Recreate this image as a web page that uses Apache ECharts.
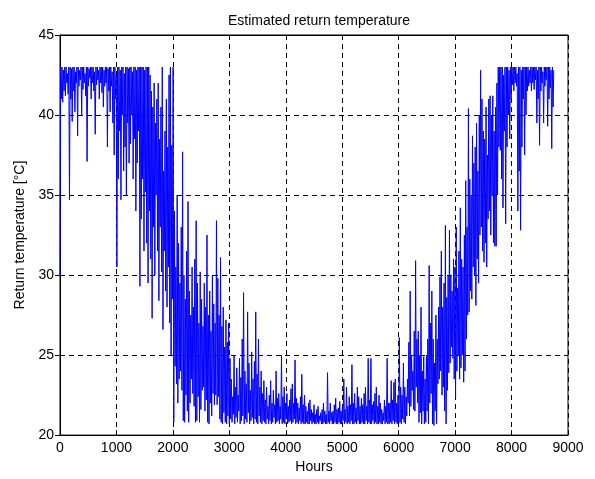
<!DOCTYPE html>
<html><head><meta charset="utf-8">
<script src="https://cdn.jsdelivr.net/npm/echarts@6/dist/echarts.min.js"></script>
<style>html,body{margin:0;padding:0;background:#fff}#c{width:595px;height:479px}</style>
</head><body><div id="c"></div>
<script>
// ---- text ----
const titleText = 'Estimated return temperature';
const xName = 'Hours';
const yName = 'Return temperature [\u00B0C]';

// ---- axes ----
const xTicks = [0, 1000, 2000, 3000, 4000, 5000, 6000, 7000, 8000, 9000];
const yTicks = [20, 25, 30, 35, 40, 45];

// ---- data: daily low (at hour d*24) and daily high (at hour d*24+12) ----
const hoursPerDay = 24;
const janLo = [30.0, 41.0, 40.8, 41.5, 41.2, 42.0, 41.3, 34.7, 41.0, 39.6, 41.5, 40.2, 42.0, 38.7, 41.8, 42.2, 40.0, 41.6, 42.0, 41.2, 37.1, 41.8, 42.3, 41.0, 42.0, 41.5, 38.8, 41.9, 42.2, 41.0, 42.0];
const janHi = [43.0, 43.0, 42.8, 43.0, 43.0, 42.6, 43.0, 43.0, 42.9, 43.0, 43.0, 42.7, 43.0, 43.0, 42.8, 43.0, 43.0, 43.0, 42.6, 43.0, 43.0, 42.9, 43.0, 43.0, 43.0, 42.7, 43.0, 43.0, 42.8, 43.0, 43.0];
const febLo = [41.4, 40.5, 41.8, 42.0, 38.0, 41.5, 40.2, 41.8, 39.5, 37.5, 41.0, 30.5, 36.0, 39.0, 34.7, 40.0, 36.5, 38.0, 35.0, 39.5, 37.0, 38.2, 40.0, 36.0, 38.5, 34.0, 37.0, 39.0];
const febHi = [43.0, 42.8, 43.0, 43.0, 42.9, 43.0, 43.0, 42.7, 43.0, 43.0, 42.5, 43.0, 43.0, 42.8, 43.0, 43.0, 42.6, 43.0, 43.0, 42.9, 43.0, 43.0, 42.7, 43.0, 43.0, 42.8, 43.0, 43.0];
const marLo = [29.3, 33.5, 36.0, 31.5, 35.2, 32.0, 29.5, 34.0, 31.0, 27.3, 33.0, 30.0, 35.0, 31.5, 28.4, 33.0, 30.2, 26.6, 31.5, 29.0, 28.0, 30.5, 27.0, 25.0, 28.5, 20.8, 24.3, 23.2, 22.0, 23.5, 24.0];
const marHi = [43.0, 43.0, 43.0, 42.8, 43.0, 43.0, 43.0, 42.5, 41.5, 40.5, 42.0, 39.5, 41.0, 42.0, 38.5, 40.5, 43.0, 36.5, 39.0, 41.0, 38.0, 42.5, 43.0, 38.1, 43.0, 34.0, 30.5, 35.0, 32.0, 29.5, 33.0];
const aprLo = [22.8, 20.9, 20.8, 22.5, 21.5, 20.8, 22.0, 23.5, 22.6, 21.8, 20.8, 20.9, 22.4, 20.8, 21.6, 22.8, 23.0, 21.5, 22.2, 20.8, 20.7, 22.0, 21.2, 22.6, 21.9, 22.5, 21.9, 22.4, 21.0, 20.8];
const aprHi = [37.7, 30.0, 28.5, 31.5, 34.6, 29.0, 27.5, 30.5, 28.0, 31.0, 33.4, 29.5, 27.0, 30.2, 28.5, 26.8, 29.5, 28.0, 32.5, 27.5, 29.0, 26.5, 30.0, 28.2, 27.0, 33.4, 29.8, 27.5, 31.1, 26.8];
const mayLo = [20.7, 21.4, 20.8, 20.7, 21.2, 20.7, 21.0, 20.8, 21.3, 20.7, 21.1, 20.8, 21.5, 20.7, 20.9, 21.2, 20.7, 21.0, 20.8, 21.4, 20.7, 20.9, 21.1, 20.7, 21.0, 20.8, 20.7, 21.2, 20.8, 20.7, 20.9];
const mayHi = [28.0, 25.5, 27.2, 25.8, 27.0, 24.8, 23.5, 22.4, 25.0, 23.0, 24.2, 22.5, 24.8, 23.6, 26.0, 28.9, 24.0, 23.2, 27.7, 24.5, 22.8, 25.2, 23.5, 24.6, 27.7, 23.8, 26.0, 23.0, 24.0, 22.6, 23.4];
const junLo = [20.8, 20.7, 21.0, 20.7, 20.9, 20.7, 20.8, 21.1, 20.7, 20.8, 20.9, 20.7, 21.0, 20.7, 20.8, 20.7, 21.0, 20.7, 20.8, 20.9, 20.7, 20.8, 21.0, 20.7, 20.8, 20.7, 20.9, 20.7, 20.8, 20.7];
const junHi = [22.2, 23.0, 21.8, 22.5, 23.4, 22.0, 22.8, 21.9, 24.0, 22.3, 22.6, 21.8, 25.0, 22.4, 23.0, 22.0, 22.6, 21.8, 22.2, 22.9, 23.2, 22.0, 24.7, 22.3, 22.0, 21.7, 22.4, 23.8, 21.9, 22.5];
const julLo = [20.7, 20.8, 20.7, 20.7, 20.9, 20.7, 20.8, 20.7, 20.7, 20.8, 20.7, 20.9, 20.7, 20.7, 20.8, 20.7, 20.7, 20.8, 20.7, 20.9, 20.7, 20.7, 20.8, 20.7, 20.7, 20.8, 20.7, 20.7, 20.9, 20.7, 20.8];
const julHi = [21.8, 21.5, 22.0, 22.2, 21.6, 21.4, 21.9, 21.3, 21.6, 21.8, 21.2, 21.4, 21.6, 22.0, 21.5, 21.3, 23.9, 21.5, 22.0, 21.4, 21.5, 21.9, 22.3, 21.6, 21.7, 22.1, 21.5, 21.8, 23.5, 21.6, 23.0];
const augLo = [20.7, 20.8, 20.7, 20.9, 20.7, 20.7, 20.8, 20.7, 20.9, 20.7, 20.7, 20.8, 20.7, 20.7, 20.9, 20.7, 20.8, 20.7, 20.7, 20.9, 20.7, 20.8, 20.7, 20.7, 20.8, 20.7, 20.7, 20.9, 20.7, 20.8, 20.7];
const augHi = [21.8, 22.4, 21.9, 24.4, 22.0, 22.6, 21.7, 23.0, 22.4, 21.8, 22.3, 21.9, 22.6, 23.0, 21.8, 24.8, 22.2, 24.8, 21.9, 22.1, 22.6, 23.0, 21.8, 22.5, 22.0, 21.6, 21.4, 22.2, 21.8, 24.8, 22.0];
const sepLo = [20.7, 20.8, 20.7, 20.9, 20.7, 20.8, 20.7, 20.7, 20.8, 20.7, 21.0, 20.8, 20.7, 21.2, 22.0, 21.2, 21.8, 22.8, 21.6, 21.5, 23.0, 22.0, 20.8, 21.4, 20.7, 21.5, 20.7, 20.8, 21.5, 20.7];
const sepHi = [22.0, 23.4, 22.2, 23.3, 23.5, 22.0, 22.5, 26.1, 23.0, 22.5, 24.5, 23.0, 22.4, 23.5, 25.8, 29.0, 25.0, 24.0, 26.5, 30.9, 26.0, 26.5, 25.0, 28.0, 24.0, 24.9, 23.5, 25.0, 26.0, 30.6];
const octLo = [22.0, 22.6, 20.7, 20.6, 21.5, 20.7, 23.2, 23.5, 24.0, 22.5, 23.0, 21.5, 20.7, 22.8, 23.9, 24.5, 25.5, 24.8, 23.5, 22.3, 24.0, 25.0, 23.5, 24.2, 25.0, 23.3, 24.0, 26.0, 27.5, 27.7, 29.0];
const octHi = [27.0, 29.0, 26.0, 24.5, 27.5, 26.0, 28.0, 29.9, 31.5, 28.0, 29.5, 33.1, 28.6, 30.0, 32.8, 30.0, 29.0, 31.0, 30.5, 33.0, 29.2, 31.5, 34.2, 31.0, 30.5, 32.5, 35.9, 33.0, 40.4, 36.0, 35.0];
const novLo = [28.5, 30.5, 30.0, 28.1, 31.0, 29.5, 32.5, 33.0, 31.5, 30.8, 32.0, 30.5, 33.5, 34.0, 32.5, 35.0, 32.0, 31.8, 31.8, 35.0, 38.0, 37.8, 36.0, 34.2, 39.0, 33.2, 38.0, 40.0, 38.5, 41.0];
const novHi = [38.7, 37.0, 38.0, 39.5, 36.5, 40.0, 42.8, 41.0, 39.0, 38.5, 40.5, 37.5, 41.0, 41.2, 40.0, 41.2, 39.0, 40.5, 42.0, 43.0, 43.0, 43.0, 43.0, 42.5, 43.0, 43.0, 43.0, 42.8, 43.0, 43.0];
const decLo = [41.9, 41.5, 42.0, 41.8, 34.0, 36.5, 32.8, 38.0, 41.0, 37.5, 40.0, 41.5, 41.8, 42.0, 41.5, 42.0, 41.6, 42.2, 39.5, 41.0, 38.1, 41.5, 42.0, 39.5, 41.8, 42.2, 39.3, 41.0, 41.7, 37.9, 40.5];
const decHi = [43.0, 43.0, 43.0, 42.6, 43.0, 43.0, 42.8, 43.0, 43.0, 43.0, 43.0, 43.0, 42.8, 43.0, 43.0, 43.0, 43.0, 43.0, 42.8, 43.0, 43.0, 43.0, 42.7, 43.0, 43.0, 43.0, 43.0, 43.0, 42.8, 43.0, 42.8];

const dailyLo = [].concat(janLo, febLo, marLo, aprLo, mayLo, junLo, julLo, augLo, sepLo, octLo, novLo, decLo);
const dailyHi = [].concat(janHi, febHi, marHi, aprHi, mayHi, junHi, julHi, augHi, sepHi, octHi, novHi, decHi);
const seriesData = [];
dailyLo.forEach((lo, d) => {
  seriesData.push([d * hoursPerDay, lo]);
  seriesData.push([d * hoursPerDay + hoursPerDay / 2, dailyHi[d]]);
});

const FONT = '"Liberation Sans", Arial, sans-serif';
const xMin = xTicks[0], xMax = xTicks[xTicks.length - 1], xInt = xTicks[1] - xTicks[0];
const yMin = yTicks[0], yMax = yTicks[yTicks.length - 1], yInt = yTicks[1] - yTicks[0];

const lineBlack = { show: true, lineStyle: { color: '#000', width: 1 } };
const tickIn = { show: true, inside: true, length: 5, lineStyle: { color: '#000', width: 1 } };
const dashed = { show: true, lineStyle: { color: '#000', width: 1, type: [5, 4] } };
const plainLabel = v => String(v);

const GRID = { left: 60, right: 27, top: 35, bottom: 43 };
const chart = echarts.init(document.getElementById('c'), null, { renderer: 'canvas' });
chart.setOption({
  animation: false,
  backgroundColor: '#fff',
  title: {
    text: titleText, left: GRID.left + (595 - GRID.left - GRID.right) / 2, textAlign: 'center', top: 9,
    textStyle: { fontFamily: FONT, fontSize: 14, fontWeight: 'normal', color: '#000' }
  },
  grid: { left: GRID.left, right: GRID.right, top: GRID.top, bottom: GRID.bottom, containLabel: false, show: true, borderColor: '#000', borderWidth: 1, backgroundColor: '#fff' },
  xAxis: [
    {
      type: 'value', position: 'bottom', min: xMin, max: xMax, interval: xInt,
      axisLine: lineBlack, axisTick: tickIn, splitLine: dashed,
      axisLabel: { color: '#000', fontFamily: FONT, fontSize: 14, margin: 6, formatter: plainLabel },
      name: xName, nameLocation: 'middle', nameGap: 24,
      nameTextStyle: { color: '#000', fontFamily: FONT, fontSize: 14 }
    },
    {
      type: 'value', position: 'top', min: xMin, max: xMax, interval: xInt,
      axisLine: lineBlack, axisTick: tickIn, splitLine: { show: false },
      axisLabel: { show: false }
    }
  ],
  yAxis: [
    {
      type: 'value', position: 'left', min: yMin, max: yMax, interval: yInt,
      axisLine: lineBlack, axisTick: tickIn, splitLine: dashed,
      axisLabel: { color: '#000', fontFamily: FONT, fontSize: 14, margin: 6, formatter: plainLabel },
      name: yName, nameLocation: 'middle', nameGap: 30, nameRotate: 90,
      nameTextStyle: { color: '#000', fontFamily: FONT, fontSize: 14 }
    },
    {
      type: 'value', position: 'right', min: yMin, max: yMax, interval: yInt,
      axisLine: lineBlack, axisTick: tickIn, splitLine: { show: false },
      axisLabel: { show: false }
    }
  ],
  series: [{
    type: 'line', data: seriesData, xAxisIndex: 0, yAxisIndex: 0,
    showSymbol: false, symbol: 'none', sampling: null,
    lineStyle: { color: '#0000ff', width: 1 }, z: 3
  }]
});
</script></body></html>
